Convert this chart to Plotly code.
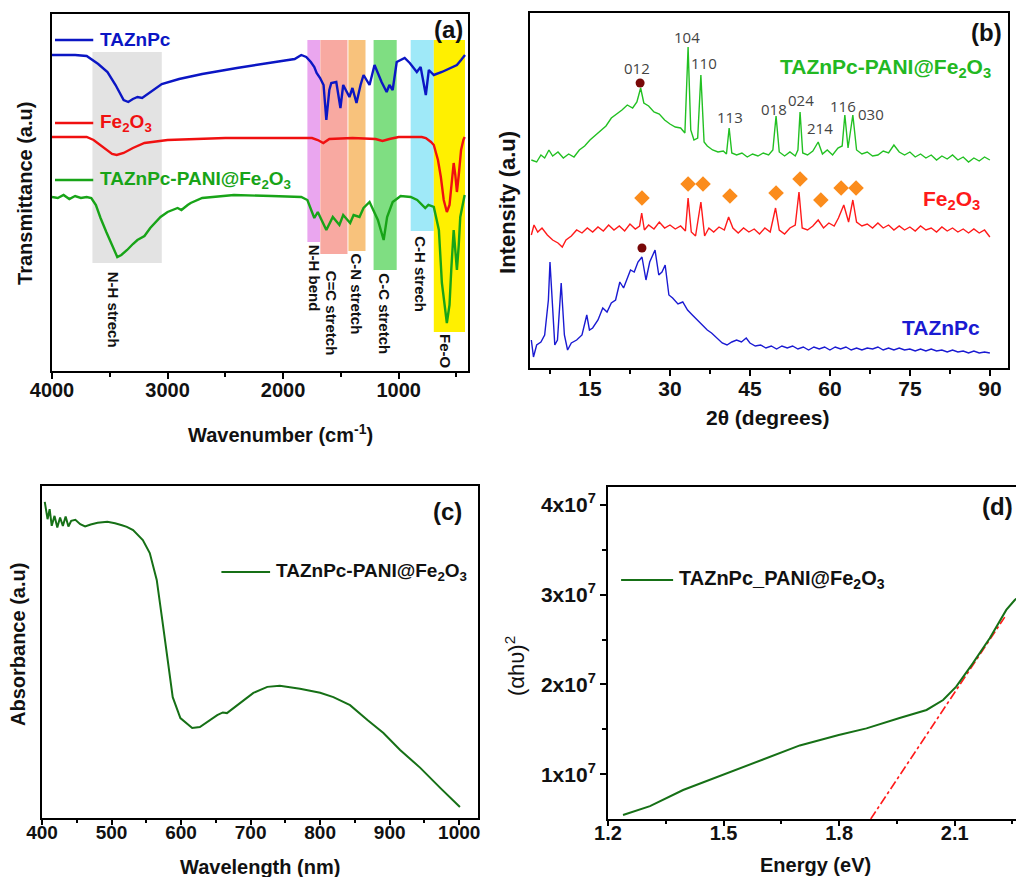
import plotly.graph_objects as go

FONT = "Liberation Sans, Arial, sans-serif"

# ================= (a) FTIR =================
ftir_tazn_wn = [4000, 3800, 3700, 3650, 3600, 3520, 3450, 3380, 3340, 3300, 3260, 3220, 3150, 3050, 2900,
                2700, 2400, 2100, 1900, 1843, 1800, 1760, 1730, 1710, 1680, 1650, 1626, 1600, 1583, 1540,
                1504, 1480, 1426, 1400, 1365, 1330, 1304, 1252, 1209, 1148, 1104, 1080, 1052, 1017, 980,
                948, 904, 843, 810, 765, 739, 696, 626, 557, 496, 460, 426]
ftir_tazn_t = [316, 316, 315, 311, 307, 299, 286, 271, 269, 272, 274, 273, 279, 287, 292,
               297, 303, 308, 312, 316, 314, 309, 304, 298, 293, 286, 251, 281, 288, 289,
               263, 286, 274, 283, 268, 286, 296, 286, 306, 289, 279, 286, 281, 309, 311,
               313, 308, 299, 304, 276, 301, 296, 299, 303, 306, 311, 316]

ftir_fe_wn = [4000, 3700, 3640, 3550, 3480, 3440, 3380, 3300, 3200, 3000, 2500, 2000, 1750, 1700, 1652,
              1600, 1400, 1200, 1140, 1080, 1000, 800, 765, 720, 696, 660, 635, 610, 583, 560, 540,
              524, 510, 496, 480, 460, 440, 429]
ftir_fe_t = [234, 234, 231, 223, 217, 216, 218, 223, 228, 231, 233, 233, 233, 231, 228,
             232, 233, 232, 230, 232, 234, 234, 233, 229, 226, 211, 194, 171, 159, 166, 191,
             208, 196, 179, 196, 221, 231, 234]

ftir_comp_wn = [4000, 3950, 3900, 3850, 3800, 3750, 3700, 3660, 3620, 3580, 3530, 3480, 3435, 3400, 3350,
                3300, 3261, 3200, 3150, 3061, 3000, 2913, 2880, 2826, 2800, 2700, 2426, 2100, 1843, 1790,
                1730, 1700, 1626, 1570, 1513, 1480, 1420, 1390, 1339, 1304, 1252, 1180, 1130, 1100, 1052,
                983, 896, 840, 770, 743, 696, 652, 626, 583, 560, 545, 524, 510, 496, 480, 467, 429]
ftir_comp_t = [174, 173, 176, 172, 175, 173, 174, 173, 166, 153, 139, 125, 114, 116, 121,
               127, 131, 135, 143, 154, 159, 163, 161, 166, 168, 173, 176, 175, 174, 171,
               153, 159, 141, 154, 146, 156, 148, 156, 154, 163, 169, 151, 131, 154, 169,
               175, 174, 171, 163, 166, 164, 141, 88, 48, 66, 101, 141, 121, 101, 126, 154, 176]

band_labels = ["N-H strech", "N-H bend", "C=C stretch", "C-N stretch", "C-C stretch", "C-H strech", "Fe-O"]
band_lo = [3650, 1790, 1678, 1435, 1217, 896, 696]
band_hi = [3050, 1680, 1443, 1287, 1017, 696, 426]
band_bottom = [108, 129, 117, 120, 101, 140, 39]
band_top = [319, 331, 331, 331, 331, 331, 331]
band_label_x = [3470, 1730, 1583, 1365, 1130, 817, 600]
band_label_y = [61, 93, 58, 77, 57, 97, 19]
band_colors = ["#e3e3e3", "#eaa6ef", "#f8a9a1", "#f8c27c", "#7fde82", "#9fe9f8", "#fff000"]

# ================= (b) XRD =================
xrd_comp_2t = [4.0, 5.0, 5.8, 6.5, 7.3, 8.0, 9.0, 10.0, 11.0, 12.0, 13.0, 14.0, 15.0, 16.0, 17.0, 18.0,
               19.0, 20.0, 21.0, 22.0, 23.0, 23.8, 24.5, 25.1, 26.0, 27.0, 28.0, 29.0, 30.0, 31.0, 32.0,
               32.8, 33.4, 33.9, 34.5, 35.2, 35.8, 36.4, 37.0, 38.0, 39.0, 40.0, 40.6, 41.1, 41.6, 42.5,
               43.5, 44.5, 45.5, 46.5, 47.5, 48.5, 49.3, 49.9, 50.5, 51.5, 52.5, 53.5, 54.0, 54.4, 54.9,
               55.8, 56.8, 57.8, 58.6, 59.5, 60.5, 61.5, 62.3, 62.8, 63.4, 64.3, 65.0, 66.0, 67.0, 68.0,
               69.0, 70.0, 71.0, 72.0, 73.0, 74.0, 75.0, 76.0, 77.0, 78.0, 79.0, 80.0, 81.0, 82.0, 83.0,
               84.0, 85.0, 86.0, 87.0, 88.0, 89.0, 90.0]
xrd_comp_i = [208, 206, 213, 210, 218, 212, 216, 210, 214, 211, 218, 222, 228, 233, 238, 242,
              250, 254, 258, 263, 260, 266, 280, 265, 262, 256, 254, 248, 244, 241, 240,
              235, 321, 238, 228, 230, 293, 226, 222, 218, 216, 217, 214, 240, 215, 213,
              215, 211, 214, 212, 215, 213, 218, 252, 216, 212, 216, 212, 218, 256, 215,
              213, 217, 226, 214, 218, 213, 220, 222, 253, 220, 253, 218, 214, 216, 212,
              213, 217, 215, 223, 216, 213, 216, 211, 214, 210, 213, 208, 212, 209, 213,
              208, 211, 206, 210, 207, 211, 208]

xrd_fe_2t = [4.0, 4.5, 5.2, 6.0, 7.0, 8.0, 9.0, 9.8, 10.5, 11.5, 12.5, 13.5, 14.5, 15.5, 16.5, 17.5,
             18.5, 19.5, 20.5, 21.5, 22.5, 23.5, 24.3, 24.7, 25.2, 26.0, 27.0, 28.0, 29.0, 30.0, 31.0,
             32.0, 32.9, 33.4, 34.0, 34.8, 35.8, 36.5, 37.3, 38.2, 39.2, 40.2, 41.0, 41.8, 42.8, 43.8,
             44.8, 45.8, 46.8, 47.8, 48.8, 49.8, 50.5, 51.5, 52.5, 53.5, 54.2, 54.8, 55.8, 56.8, 57.8,
             58.8, 59.8, 60.8, 61.6, 62.6, 63.5, 64.3, 65.0, 66.0, 67.0, 68.0, 69.0, 70.0, 71.0, 72.0,
             73.0, 74.0, 75.0, 76.0, 77.0, 78.0, 79.0, 80.0, 81.0, 82.0, 83.0, 84.0, 85.0, 86.0, 87.0,
             88.0, 89.0, 89.6, 90.0]
xrd_fe_i = [133, 143, 136, 140, 133, 128, 125, 121, 128, 132, 138, 135, 140, 136, 141, 137,
            143, 138, 142, 137, 144, 139, 142, 155, 138, 143, 139, 146, 140, 143, 139,
            142, 137, 170, 136, 132, 166, 132, 140, 136, 141, 138, 151, 140, 135, 140,
            136, 139, 134, 140, 136, 160, 138, 134, 140, 143, 176, 140, 138, 142, 148,
            140, 145, 142, 150, 163, 146, 168, 146, 142, 144, 140, 145, 140, 143, 138,
            142, 138, 141, 137, 142, 138, 140, 136, 141, 137, 140, 136, 139, 135, 139,
            135, 138, 134, 131]

xrd_tazn_2t = [4.0, 4.4, 5.0, 5.8, 6.5, 7.2, 7.5, 7.9, 8.4, 8.9, 9.6, 10.2, 10.8, 11.5, 12.5, 13.5,
               14.0, 14.4, 14.9, 15.5, 16.5, 17.4, 18.2, 19.0, 19.8, 20.6, 21.3, 22.0, 22.6, 23.3, 24.0,
               24.75, 25.5, 26.2, 27.2, 27.9, 28.5, 29.1, 29.8, 30.5, 31.5, 32.4, 33.3, 34.2, 35.1, 36.0,
               37.0, 37.8, 38.8, 39.8, 40.7, 41.6, 42.5, 43.4, 44.3, 45.0, 46.0, 47.0, 48.0, 49.0, 50.0,
               51.0, 52.0, 53.0, 54.0, 55.0, 56.0, 57.0, 58.0, 59.0, 60.0, 61.0, 62.0, 63.0, 64.0, 65.0,
               66.0, 67.0, 68.0, 69.0, 70.0, 71.0, 72.0, 73.0, 74.0, 75.0, 76.0, 77.0, 78.0, 79.0, 80.0,
               81.0, 82.0, 83.0, 84.0, 85.0, 86.0, 87.0, 88.0, 89.0, 90.0]
xrd_tazn_i = [28, 11, 23, 26, 33, 68, 106, 68, 23, 28, 85, 33, 18, 25, 28, 33,
              46, 53, 38, 40, 48, 60, 56, 65, 68, 86, 80, 90, 98, 96, 106,
              111, 88, 106, 118, 93, 96, 103, 73, 70, 64, 66, 58, 53, 48, 43,
              38, 35, 30, 25, 23, 26, 28, 26, 30, 25, 22, 23, 20, 22, 19,
              22, 20, 22, 19, 21, 18, 21, 19, 21, 18, 21, 19, 21, 18, 20,
              18, 20, 19, 21, 18, 20, 18, 20, 18, 19, 17, 19, 17, 19, 17,
              18, 16, 18, 16, 17, 15, 17, 15, 16, 15]

fe_peak_2t = [24.75, 33.4, 36.2, 41.25, 49.9, 54.4, 58.3, 62.1, 64.9]
fe_peak_mark = [170, 184, 184, 172, 175, 189, 168, 180, 180]
pc_peak_2t = [24.4, 24.75]
pc_peak_mark = [285, 120]
hkl_labels = ["012", "104", "110", "113", "018", "024", "214", "116", "030"]
hkl_2t = [23.8, 33.2, 36.4, 41.25, 49.5, 54.6, 58.1, 62.4, 67.7]
hkl_y = [300, 331, 305, 251, 259, 268, 240, 262, 254]

# ================= (c) UV-Vis =================
uv_wl = [404, 408, 411, 414, 418, 422, 426, 430, 434, 438, 442, 448, 455, 462, 470, 480, 494, 505, 515,
         522, 531, 545, 555, 565, 573, 580, 588, 599, 616, 627, 652, 660, 666, 681, 704, 724, 742, 771,
         800, 819, 843, 868, 891, 915, 944, 973, 1001]
uv_abs = [95.2, 90.0, 93.0, 88.0, 91.0, 87.5, 90.5, 88.0, 90.8, 87.8, 89.5, 89.8, 88.5, 87.8, 88.4, 88.9,
          89.2, 88.8, 88.2, 87.7, 86.7, 83.7, 79.8, 71.7, 59.6, 48.5, 36.4, 30.1, 27.1, 27.4, 31.0, 31.8,
          31.6, 34.0, 37.7, 39.5, 39.8, 38.9, 37.7, 36.4, 34.0, 29.5, 25.6, 20.5, 15.1, 9.0, 3.3]

# ================= (d) Tauc =================
tauc_e = [1.239, 1.309, 1.395, 1.501, 1.612, 1.698, 1.799, 1.871, 1.957, 2.027, 2.070, 2.104, 2.147,
          2.191, 2.234, 2.256, 2.276]
tauc_y = [0.544e7, 0.644e7, 0.823e7, 1.0e7, 1.18e7, 1.32e7, 1.436e7, 1.51e7, 1.625e7, 1.715e7, 1.826e7,
          1.975e7, 2.235e7, 2.514e7, 2.83e7, 2.94e7, 3.015e7]
fit_e = [1.882, 2.23]
fit_y = [0.5e7, 2.75e7]

# ================= figure =================
fig = go.Figure()

# (a)
fig.add_trace(go.Scatter(x=ftir_tazn_wn, y=ftir_tazn_t, mode="lines", line=dict(color="#0b16c4", width=2.4),
                         xaxis="x", yaxis="y", showlegend=False))
fig.add_trace(go.Scatter(x=ftir_fe_wn, y=ftir_fe_t, mode="lines", line=dict(color="#f01010", width=2.4),
                         xaxis="x", yaxis="y", showlegend=False))
fig.add_trace(go.Scatter(x=ftir_comp_wn, y=ftir_comp_t, mode="lines", line=dict(color="#18a418", width=2.4),
                         xaxis="x", yaxis="y", showlegend=False))

# (b)
fig.add_trace(go.Scatter(x=xrd_comp_2t, y=xrd_comp_i, mode="lines", line=dict(color="#22c022", width=1.4),
                         xaxis="x2", yaxis="y2", showlegend=False))
fig.add_trace(go.Scatter(x=xrd_fe_2t, y=xrd_fe_i, mode="lines", line=dict(color="#ff1a1a", width=1.4),
                         xaxis="x2", yaxis="y2", showlegend=False))
fig.add_trace(go.Scatter(x=xrd_tazn_2t, y=xrd_tazn_i, mode="lines", line=dict(color="#1a1ad2", width=1.4),
                         xaxis="x2", yaxis="y2", showlegend=False))
fig.add_trace(go.Scatter(x=fe_peak_2t, y=fe_peak_mark, mode="markers",
                         marker=dict(symbol="diamond", size=12, color="#fb8c1c"),
                         xaxis="x2", yaxis="y2", showlegend=False))
fig.add_trace(go.Scatter(x=pc_peak_2t, y=pc_peak_mark, mode="markers",
                         marker=dict(symbol="circle", size=9, color="#780808"),
                         xaxis="x2", yaxis="y2", showlegend=False))

# (c)
fig.add_trace(go.Scatter(x=uv_wl, y=uv_abs, mode="lines", line=dict(color="#167016", width=2),
                         xaxis="x3", yaxis="y3", showlegend=False))

# (d)
fig.add_trace(go.Scatter(x=fit_e, y=fit_y, mode="lines", line=dict(color="#ff1a1a", width=1.6, dash="dashdot"),
                         xaxis="x4", yaxis="y4", showlegend=False))
fig.add_trace(go.Scatter(x=tauc_e, y=tauc_y, mode="lines", line=dict(color="#167016", width=2),
                         xaxis="x4", yaxis="y4", showlegend=False))

shapes = []
annotations = []

# band rectangles + labels in (a)
for lab, lo, hi, bot, top, lx, ly, col in zip(band_labels, band_lo, band_hi, band_bottom, band_top,
                                               band_label_x, band_label_y, band_colors):
    shapes.append(dict(type="rect", xref="x", yref="y", x0=lo, x1=hi, y0=bot, y1=top,
                       fillcolor=col, line=dict(width=0), layer="below"))
    annotations.append(dict(xref="x", yref="y", x=lx, y=ly, text=lab, textangle=90, showarrow=False,
                            xanchor="center", yanchor="middle",
                            font=dict(family=FONT, size=15, color="#111111", weight="bold")))

# legend keys (a)
leg_a = [("TAZnPc", "#0b16c4", 331),
         ("Fe<sub>2</sub>O<sub>3</sub>", "#f01010", 248),
         ("TAZnPc-PANI@Fe<sub>2</sub>O<sub>3</sub>", "#18a418", 191)]
for txt, col, yy in leg_a:
    shapes.append(dict(type="line", xref="x", yref="y", x0=3974, x1=3643, y0=yy, y1=yy,
                       line=dict(color=col, width=2.4)))
    annotations.append(dict(xref="x", yref="y", x=3600, y=yy, text=txt, xanchor="left", yanchor="middle",
                            showarrow=False, font=dict(family=FONT, size=19, color=col, weight="bold")))

# (b) labels
for txt, col, xx, yy in [("TAZnPc-PANI@Fe<sub>2</sub>O<sub>3</sub>", "#22b822", 90.6, 300),
                         ("Fe<sub>2</sub>O<sub>3</sub>", "#ff1a1a", 88.6, 168),
                         ("TAZnPc", "#1a1ad2", 88.6, 40)]:
    annotations.append(dict(xref="x2", yref="y2", x=xx, y=yy, text=txt, xanchor="right", yanchor="middle",
                            showarrow=False, font=dict(family=FONT, size=21, color=col, weight="bold")))
for lab, xx, yy in zip(hkl_labels, hkl_2t, hkl_y):
    annotations.append(dict(xref="x2", yref="y2", x=xx, y=yy, text=lab, showarrow=False,
                            xanchor="center", yanchor="middle",
                            font=dict(family="Open Sans, sans-serif", size=15, color="#444444")))

# (c) legend
shapes.append(dict(type="line", xref="x3", yref="y3", x0=658, x1=728, y0=74.1, y1=74.1,
                   line=dict(color="#167016", width=2)))
annotations.append(dict(xref="x3", yref="y3", x=733, y=74.1, text="TAZnPc-PANI@Fe<sub>2</sub>O<sub>3</sub>",
                        xanchor="left", yanchor="middle", showarrow=False,
                        font=dict(family=FONT, size=19, color="#111111", weight="bold")))

# (d) legend
shapes.append(dict(type="line", xref="x4", yref="y4", x0=1.234, x1=1.369, y0=3.164e7, y1=3.164e7,
                   line=dict(color="#167016", width=2)))
annotations.append(dict(xref="x4", yref="y4", x=1.38, y=3.164e7, text="TAZnPc_PANI@Fe<sub>2</sub>O<sub>3</sub>",
                        xanchor="left", yanchor="middle", showarrow=False,
                        font=dict(family=FONT, size=20, color="#111111", weight="bold")))

# panel letters
for txt, xr, yr, xx, yy in [("(a)", "x", "y", 565, 341), ("(b)", "x2", "y2", 89.4, 335),
                            ("(c)", "x3", "y3", 983, 92.2), ("(d)", "x4", "y4", 2.211, 3.98e7)]:
    annotations.append(dict(xref=xr, yref=yr, x=xx, y=yy, text=txt, showarrow=False,
                            xanchor="center", yanchor="middle",
                            font=dict(family=FONT, size=24, color="#111111", weight="bold")))

# axis titles
ttl = dict(family=FONT, size=20, color="#111111", weight="bold")
axis_titles = [
    ("Wavenumber (cm<sup>-1</sup>)", 0.2687, 0.5109, 0, ttl),
    ("Transmittance (a.u)", 0.0167, 0.7871, -90, ttl),
    ("2θ (degrees)", 0.7480, 0.5293, 0, dict(ttl, size=21)),
    ("Intensity (a.u)", 0.4921, 0.7768, -90, dict(ttl, size=22)),
    ("Wavelength (nm)", 0.2480, 0.0115, 0, ttl),
    ("Absorbance (a.u)", 0.0098, 0.2681, -90, ttl),
    ("Energy (eV)", 0.7943, 0.0138, 0, ttl),
    ("(αhυ)<sup>2</sup>", 0.4990, 0.2428, -90, dict(family=FONT, size=22, color="#111111")),
]
for txt, xx, yy, ang, fnt in axis_titles:
    annotations.append(dict(xref="paper", yref="paper", x=xx, y=yy, text=txt, textangle=ang,
                            xanchor="center", yanchor="middle", showarrow=False, font=fnt))

tickfont = dict(family=FONT, size=20, color="#111111", weight="bold")
base = dict(showline=True, linewidth=2, linecolor="black", showgrid=False, zeroline=False, automargin=False)

# the page body adds an 8 px margin, so the figure is 1016 x 869 placed at (8, 8)
layout = dict(
    width=1016, height=869, autosize=False,
    margin=dict(l=0, r=0, t=0, b=0, autoexpand=False),
    paper_bgcolor="white", plot_bgcolor="white",
    shapes=shapes, annotations=annotations,
    xaxis=dict(base, domain=[0.04331, 0.45276], anchor="y", range=[4000, 400], mirror=True,
               tickvals=[4000, 3000, 2000, 1000], ticks="outside", ticklen=6, tickwidth=2, tickcolor="black",
               minor=dict(tickvals=[3500, 2500, 1500, 500], ticks="outside", ticklen=4, tickwidth=1.5, tickcolor="black"),
               tickfont=tickfont, ticklabelstandoff=-6),
    yaxis=dict(base, domain=[0.58228, 0.99310], anchor="x", range=[0, 357], mirror=True,
               showticklabels=False, ticks=""),
    xaxis2=dict(base, domain=[0.51378, 0.98425], anchor="y2", range=[3.75, 93.4], mirror=True,
                tickvals=[15, 30, 45, 60, 75, 90], ticks="outside", ticklen=6, tickwidth=2, tickcolor="black",
                minor=dict(tickvals=[7.5, 22.5, 37.5, 52.5, 67.5, 82.5], ticks="outside", ticklen=4,
                           tickwidth=1.5, tickcolor="black"),
                tickfont=dict(tickfont, size=21), ticklabelstandoff=-5),
    yaxis2=dict(base, domain=[0.58573, 0.99425], anchor="x2", range=[0, 355], mirror=True,
                showticklabels=False, ticks=""),
    xaxis3=dict(base, domain=[0.03346, 0.46260], anchor="y3", range=[400, 1027], mirror=True,
                tickvals=[400, 500, 600, 700, 800, 900, 1000], ticks="outside", ticklen=5, tickwidth=2,
                tickcolor="black",
                minor=dict(tickvals=[450, 550, 650, 750, 850, 950], ticks="outside", ticklen=3,
                           tickwidth=1.5, tickcolor="black"),
                tickfont=dict(tickfont, size=19), ticklabelstandoff=-9),
    yaxis3=dict(base, domain=[0.06789, 0.44994], anchor="x3", range=[0, 100], mirror=True,
                showticklabels=False, ticks=""),
    xaxis4=dict(base, domain=[0.59055, 1.0], anchor="y4", range=[1.2, 2.28], mirror=True,
                tickvals=[1.2, 1.5, 1.8, 2.1], ticktext=["1.2", "1.5", "1.8", "2.1"],
                ticks="outside", ticklen=5, tickwidth=2, tickcolor="black",
                minor=dict(tickvals=[1.35, 1.65, 1.95, 2.25], ticks="outside", ticklen=3,
                           tickwidth=1.5, tickcolor="black"),
                tickfont=dict(tickfont, size=20), ticklabelstandoff=-10),
    yaxis4=dict(base, domain=[0.06674, 0.44879], anchor="x4", range=[0.5e7, 4.2e7], mirror=False,
                tickvals=[1e7, 2e7, 3e7, 4e7],
                ticktext=["1x10<sup>7</sup>", "2x10<sup>7</sup>", "3x10<sup>7</sup>", "4x10<sup>7</sup>"],
                ticks="outside", ticklen=6, tickwidth=2, tickcolor="black",
                minor=dict(tickvals=[1.5e7, 2.5e7, 3.5e7], ticks="outside", ticklen=4,
                           tickwidth=1.5, tickcolor="black"),
                tickfont=dict(tickfont, size=21)),
)
fig.update_layout(layout)
fig.write_html("out.html")
